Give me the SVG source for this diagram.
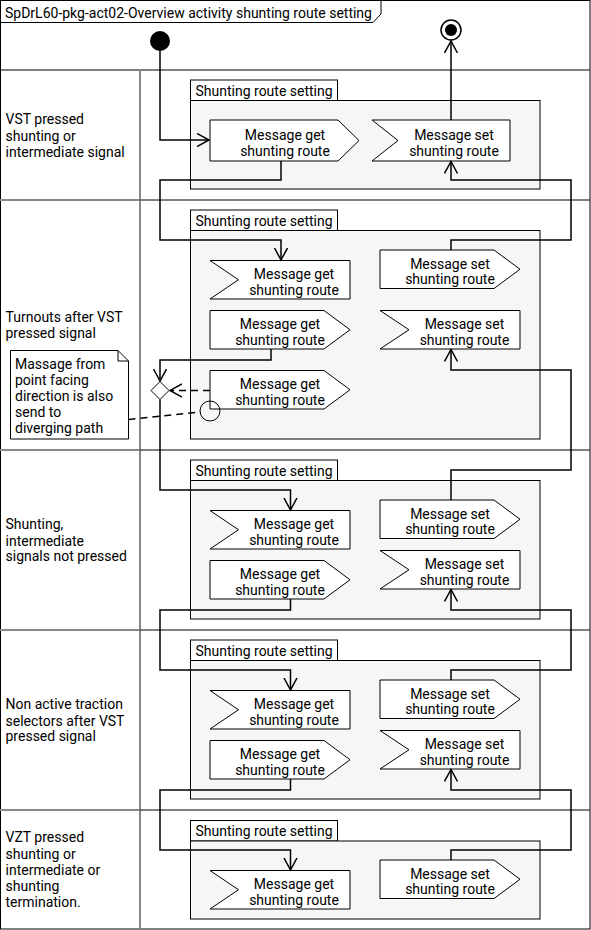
<svg xmlns="http://www.w3.org/2000/svg" width="591" height="930" viewBox="0 0 591 930">
<defs>
<marker id="arr" markerUnits="userSpaceOnUse" markerWidth="16" markerHeight="16" refX="12" refY="7" orient="auto">
<path d="M0,0.5 L12,7 L0,13.5" fill="none" stroke="#000" stroke-width="1.5"/>
</marker>
</defs>
<style>
text{font-family:Roboto,"Liberation Sans",sans-serif;font-size:14px;fill:#000}
.c{text-anchor:middle}
.sh{fill:#fff;stroke:#000;stroke-width:1}
.tab{fill:#fff;stroke:#000;stroke-width:1}
.body{fill:#f6f6f6;stroke:#000;stroke-width:1}
.ln{fill:none;stroke:#000;stroke-width:1.5}
.dash{fill:none;stroke:#000;stroke-width:1.5;stroke-dasharray:7,5}
.lane{stroke:#000;stroke-width:1}
.lg{stroke:#888;stroke-width:2}
</style>
<rect x="0" y="0" width="591" height="930" fill="#fff"/>
<g id="frame">
<rect x="0.5" y="0.5" width="589.5" height="928.5" fill="none" stroke="#000" stroke-width="1"/>
<path d="M0.5,22.5 H373 L381,14 V0.5" fill="none" stroke="#000" stroke-width="1"/>
<text x="5" y="18">SpDrL60-pkg-act02-Overview activity shunting route setting</text>
<line class="lane" x1="0" y1="70" x2="590" y2="70"/>
<line class="lg" x1="140" y1="70" x2="140" y2="929"/>
<line class="lg" x1="0" y1="200" x2="140" y2="200"/>
<line class="lane" x1="140" y1="200" x2="590" y2="200"/>
<line class="lg" x1="0" y1="450" x2="140" y2="450"/>
<line class="lane" x1="140" y1="450" x2="590" y2="450"/>
<line class="lg" x1="0" y1="630" x2="140" y2="630"/>
<line class="lane" x1="140" y1="630" x2="590" y2="630"/>
<line class="lg" x1="0" y1="810" x2="140" y2="810"/>
<line class="lane" x1="140" y1="810" x2="590" y2="810"/>
</g>
<g id="lane-labels">
<text x="5.5" y="124">VST pressed</text>
<text x="5.5" y="140.5">shunting or</text>
<text x="5.5" y="157">intermediate signal</text>
<text x="5.5" y="322">Turnouts after VST</text>
<text x="5.5" y="338">pressed signal</text>
<text x="5.5" y="529">Shunting,</text>
<text x="5.5" y="545.5">intermediate</text>
<text x="5.5" y="561">signals not pressed</text>
<text x="5.5" y="709">Non active traction</text>
<text x="5.5" y="725.5">selectors after VST</text>
<text x="5.5" y="741">pressed signal</text>
<text x="5.5" y="842">VZT pressed</text>
<text x="5.5" y="858.5">shunting or</text>
<text x="5.5" y="875">intermediate or</text>
<text x="5.5" y="891">shunting</text>
<text x="5.5" y="907">termination.</text>
</g>
<g id="groups">
<g id="group1"><rect class="tab" x="190.5" y="80" width="147" height="20.5"/><rect class="body" x="190.5" y="100.5" width="349.5" height="88.5"/><text x="195.5" y="96">Shunting route setting</text></g>
<g id="group2"><rect class="tab" x="190.5" y="210" width="147" height="20.5"/><rect class="body" x="190.5" y="230.5" width="349.5" height="208.5"/><text x="195.5" y="226">Shunting route setting</text></g>
<g id="group3"><rect class="tab" x="190.5" y="460" width="147" height="20.5"/><rect class="body" x="190.5" y="480.5" width="349.5" height="138.5"/><text x="195.5" y="476">Shunting route setting</text></g>
<g id="group4"><rect class="tab" x="190.5" y="640" width="147" height="20.5"/><rect class="body" x="190.5" y="660.5" width="349.5" height="138.5"/><text x="195.5" y="656">Shunting route setting</text></g>
<g id="group5"><rect class="tab" x="190.5" y="820.5" width="147" height="20.5"/><rect class="body" x="190.5" y="841" width="349.5" height="78"/><text x="195.5" y="836">Shunting route setting</text></g>
</g>
<g id="start"><circle cx="160" cy="41" r="10" fill="#000"/></g>
<g id="end"><circle cx="451" cy="30" r="10" fill="#fff" stroke="#000" stroke-width="1.5"/><circle cx="451" cy="30" r="6" fill="#000"/></g>
<g id="l1-get"><path class="sh" d="M210,120 H338 L359,140.5 L338,161 H210 Z"/><text class="c" x="285" y="139.5">Message get</text><text class="c" x="285" y="155.5">shunting route</text></g>
<g id="l1-set"><path class="sh" d="M372,120 H510 V161 H372 L398,140.5 Z"/><text class="c" x="454" y="139.5">Message set</text><text class="c" x="454" y="155.5">shunting route</text></g>
<g id="l2-get1"><path class="sh" d="M210,260.5 H350 V299 H210 L238.5,279.75 Z"/><text class="c" x="294" y="279">Message get</text><text class="c" x="294" y="294.5">shunting route</text></g>
<g id="l2-set1"><path class="sh" d="M380,250 H494 L520,269.25 L494,288.5 H380 Z"/><text class="c" x="450" y="268.5">Message set</text><text class="c" x="450" y="284">shunting route</text></g>
<g id="l2-get2"><path class="sh" d="M210,310.5 H324 L350,329.75 L324,349 H210 Z"/><text class="c" x="280" y="329">Message get</text><text class="c" x="280" y="344.5">shunting route</text></g>
<g id="l2-set2"><path class="sh" d="M380,310.5 H520 V349 H380 L409,329.75 Z"/><text class="c" x="464.5" y="329">Message set</text><text class="c" x="464.5" y="344.5">shunting route</text></g>
<g id="l2-get3"><path class="sh" d="M210,370.5 H324 L350,389.75 L324,409 H210 Z"/><text class="c" x="280" y="389">Message get</text><text class="c" x="280" y="404.5">shunting route</text><circle cx="210" cy="411" r="10" fill="none" stroke="#000" stroke-width="1"/></g>
<g id="decision"><path d="M160,381.5 L169,390.5 L160,399.5 L151,390.5 Z" fill="#fff" stroke="#000" stroke-width="1"/></g>
<g id="note"><path d="M10.5,350.5 H118 L128.5,361 V439 H10.5 Z M118,350.5 V361 H128.5" fill="#fff" stroke="#000" stroke-width="1"/>
<text x="15" y="369">Massage from</text><text x="15" y="385">point facing</text><text x="15" y="401">direction is also</text><text x="15" y="417">send to</text><text x="15" y="433">diverging path</text></g>
<g id="l3-get1"><path class="sh" d="M210,510.5 H350 V549 H210 L238.5,529.75 Z"/><text class="c" x="294" y="529">Message get</text><text class="c" x="294" y="544.5">shunting route</text></g>
<g id="l3-set1"><path class="sh" d="M380,500 H494 L520,519.25 L494,538.5 H380 Z"/><text class="c" x="450" y="518.5">Message set</text><text class="c" x="450" y="534">shunting route</text></g>
<g id="l3-get2"><path class="sh" d="M210,560.5 H324 L350,579.75 L324,599 H210 Z"/><text class="c" x="280" y="579">Message get</text><text class="c" x="280" y="594.5">shunting route</text></g>
<g id="l3-set2"><path class="sh" d="M380,550.5 H520 V589 H380 L409,569.75 Z"/><text class="c" x="464.5" y="569">Message set</text><text class="c" x="464.5" y="584.5">shunting route</text></g>
<g id="l4-get1"><path class="sh" d="M210,690.5 H350 V729 H210 L238.5,709.75 Z"/><text class="c" x="294" y="709">Message get</text><text class="c" x="294" y="724.5">shunting route</text></g>
<g id="l4-set1"><path class="sh" d="M380,680 H494 L520,699.25 L494,718.5 H380 Z"/><text class="c" x="450" y="698.5">Message set</text><text class="c" x="450" y="714">shunting route</text></g>
<g id="l4-get2"><path class="sh" d="M210,740.5 H324 L350,759.75 L324,779 H210 Z"/><text class="c" x="280" y="759">Message get</text><text class="c" x="280" y="774.5">shunting route</text></g>
<g id="l4-set2"><path class="sh" d="M380,730.5 H520 V769 H380 L409,749.75 Z"/><text class="c" x="464.5" y="749">Message set</text><text class="c" x="464.5" y="764.5">shunting route</text></g>
<g id="l5-get1"><path class="sh" d="M210,870.5 H350 V909 H210 L238.5,889.75 Z"/><text class="c" x="294" y="889">Message get</text><text class="c" x="294" y="904.5">shunting route</text></g>
<g id="l5-set1"><path class="sh" d="M380,860 H494 L520,879.25 L494,898.5 H380 Z"/><text class="c" x="450" y="878.5">Message set</text><text class="c" x="450" y="894">shunting route</text></g>
<g id="connectors">
<path class="ln" marker-end="url(#arr)" d="M160,51 V140 H209"/>
<path class="ln" marker-end="url(#arr)" d="M281,161 V180 H160 V240 H281 V260"/>
<path class="ln" marker-end="url(#arr)" d="M451,120 V41"/>
<path class="ln" marker-end="url(#arr)" d="M451,250 V240 H571 V180 H451 V161.5"/>
<path class="ln" marker-end="url(#arr)" d="M271,349 V360 H160 V381"/>
<path class="dash" marker-end="url(#arr)" d="M210,390.5 H170"/>
<path class="ln" marker-end="url(#arr)" d="M160,399.5 V490 H290.5 V510"/>
<path class="ln" marker-end="url(#arr)" d="M451,500 V470 H571 V370 H451 V349.5"/>
<path class="ln" marker-end="url(#arr)" d="M290.5,599 V610 H160 V670 H290.5 V690"/>
<path class="ln" marker-end="url(#arr)" d="M451,680 V670 H571 V610 H451 V589.5"/>
<path class="ln" marker-end="url(#arr)" d="M290.5,779 V790 H160 V850 H290.5 V870"/>
<path class="ln" marker-end="url(#arr)" d="M451,860 V850 H571 V790 H451 V769.5"/>
<path class="dash" d="M128.5,419.5 L200.5,412"/>
</g>
</svg>
